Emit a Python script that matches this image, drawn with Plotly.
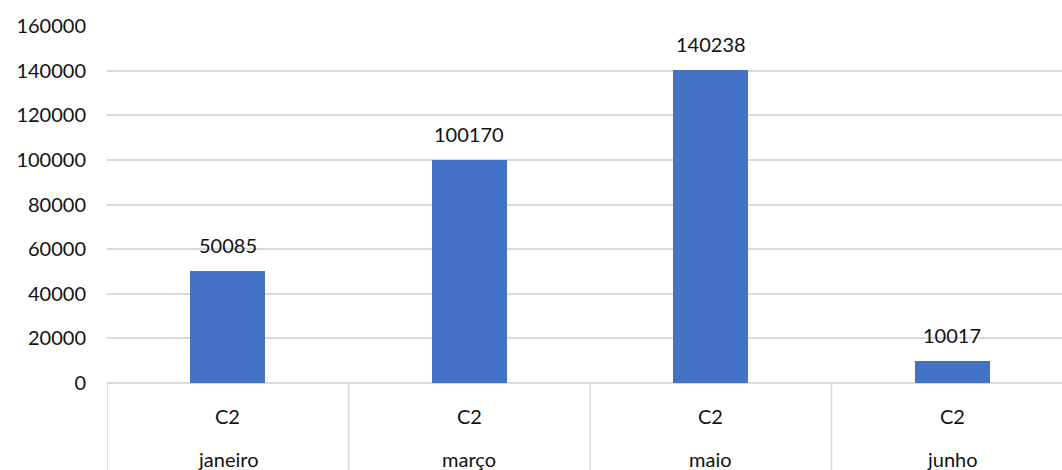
import plotly.graph_objects as go

# Data
months = ["janeiro", "março", "maio", "junho"]
series_label = ["C2", "C2", "C2", "C2"]
values = [50085, 100170, 140238, 10017]
y_ticks = [0, 20000, 40000, 60000, 80000, 100000, 120000, 140000, 160000]

BAR_COLOR = "#4472C4"
GRID = "#D9D9D9"
FONT = "Lato"
TXT = "#111111"

x_pos = list(range(len(months)))

fig = go.Figure()
fig.add_trace(go.Bar(
    x=x_pos,
    y=values,
    width=0.31,
    marker=dict(color=BAR_COLOR, line=dict(width=0)),
    hoverinfo="skip",
))

annotations = []
# value labels above bars
for xi, v in zip(x_pos, values):
    annotations.append(dict(
        x=xi, y=v, xref="x", yref="y", text=str(v), showarrow=False,
        yanchor="bottom", yshift=12, font=dict(family=FONT, size=20, color=TXT),
    ))
# two-level category labels
for xi, s, m in zip(x_pos, series_label, months):
    annotations.append(dict(
        x=xi, y=0, xref="x", yref="paper", text=s, showarrow=False,
        yanchor="middle", yshift=-33, font=dict(family=FONT, size=20, color=TXT),
    ))
    annotations.append(dict(
        x=xi, y=0, xref="x", yref="paper", text=m, showarrow=False,
        yanchor="middle", yshift=-76, font=dict(family=FONT, size=20, color=TXT),
    ))

# category separators below the axis
shapes = []
for b in [i - 0.5 for i in range(len(months) + 1)]:
    shapes.append(dict(
        type="line", xref="x", yref="paper", x0=b, x1=b, y0=0, y1=-0.3,
        line=dict(color=GRID, width=1.5),
    ))

fig.update_layout(
    width=1062, height=470,
    margin=dict(l=107, r=0, t=26, b=87),
    paper_bgcolor="white", plot_bgcolor="white",
    showlegend=False,
    bargap=0,
    annotations=annotations,
    shapes=shapes,
    xaxis=dict(
        range=[-0.5, -0.5 + 955 / 241.5],
        showticklabels=False, showgrid=False, zeroline=False,
        showline=False, ticks="", fixedrange=True,
    ),
    yaxis=dict(
        range=[0, 160000],
        tickvals=y_ticks,
        ticktext=[str(t) for t in y_ticks],
        showgrid=True, gridcolor=GRID, gridwidth=1.5,
        zeroline=True, zerolinecolor=GRID, zerolinewidth=1.5,
        showline=False, ticks="",
        ticklabelstandoff=20,
        tickfont=dict(family=FONT, size=20, color=TXT),
        fixedrange=True,
    ),
)

fig.write_html("out.html")
